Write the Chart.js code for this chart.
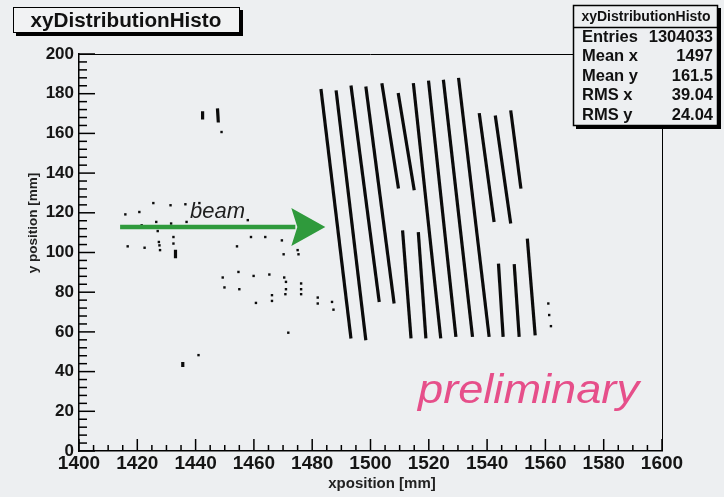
<!DOCTYPE html>
<html>
<head>
<meta charset="utf-8">
<script src="https://cdn.jsdelivr.net/npm/chart.js@4.4.1/dist/chart.umd.min.js"></script>
<style>
  html, body { margin: 0; padding: 0; background: #edeff1; }
  #wrap { width: 724px; height: 497px; }
</style>
</head>
<body>
<div id="wrap"><canvas id="xyChart" width="724" height="497"></canvas></div>
<script>
// strips of hits (top end -> bottom end), values in mm
const stripX1 = [1483.0, 1488.2, 1493.3, 1498.4, 1503.9, 1509.5, 1511.0, 1516.4, 1514.7, 1519.9, 1525.0, 1530.2, 1537.3, 1542.8, 1548.1, 1543.9, 1549.3, 1553.8, 1442.4, 1447.5, 1433.1, 1435.6];
const stripY1 = [182.4, 181.7, 184.1, 183.6, 185.3, 180.3, 111.2, 110.3, 185.3, 186.6, 187.0, 188.0, 170.2, 169.0, 171.6, 94.4, 94.1, 107.0, 171.1, 172.6, 101.4, 44.8];
const stripX2 = [1493.3, 1498.4, 1503.0, 1508.1, 1509.6, 1515.0, 1513.9, 1519.0, 1524.1, 1529.3, 1535.0, 1540.7, 1542.4, 1548.1, 1551.6, 1545.5, 1551.0, 1556.5, 1442.4, 1447.8, 1433.1, 1435.6];
const stripY2 = [56.7, 55.8, 75.1, 74.3, 132.2, 131.4, 56.7, 56.7, 56.7, 57.5, 57.5, 57.5, 115.4, 114.6, 132.2, 57.5, 57.5, 58.3, 167.0, 165.5, 97.1, 42.3];

// isolated hits
const hitX = [1448.9, 1425.5, 1431.4, 1436.5, 1441.3, 1415.9, 1420.7, 1421.5, 1426.5, 1431.6, 1436.9, 1427.0, 1432.4, 1416.7, 1422.5, 1427.4, 1427.6, 1427.8, 1432.4, 1454.2, 1459.0, 1463.9, 1469.6, 1470.2, 1475.0, 1475.3, 1449.3, 1454.7, 1459.9, 1465.3, 1470.4, 1471.0, 1449.9, 1455.0, 1476.2, 1476.2, 1471.0, 1466.2, 1466.2, 1460.7, 1470.8, 1476.2, 1481.9, 1481.9, 1486.8, 1487.3, 1471.8, 1441.0, 1561.0, 1561.3, 1561.9, 1457.9];
const hitY = [160.7, 124.9, 123.8, 124.3, 124.9, 119.2, 120.4, 113.7, 115.4, 114.6, 115.4, 110.8, 107.8, 103.1, 102.4, 105.3, 103.6, 101.2, 104.5, 103.1, 107.8, 107.8, 106.1, 99.1, 101.2, 99.1, 87.4, 90.2, 88.2, 88.9, 87.4, 85.2, 82.4, 81.5, 84.4, 81.5, 81.5, 78.5, 75.6, 74.6, 79.0, 79.0, 77.3, 74.3, 75.1, 71.2, 59.6, 48.3, 74.3, 68.5, 62.9, 116.3];

const xRange = [1400, 1600];
const yRange = [0, 200];

const statLabels = ['Entries', 'Mean x', 'Mean y', 'RMS x', 'RMS y'];
const statValues = ['1304033', '1497', '161.5', '39.04', '24.04'];

const histName = 'xyDistributionHisto';
const beamFrom = [1414.1, 112.9];
const beamTo = [1484.5, 112.9];

const FONT = "'Liberation Sans', Arial, Helvetica, sans-serif";
const BG = '#edeff1';

const datasets = stripX1.map(function(x, i) {
    return {
        type: 'line',
        data: [{ x: x, y: stripY1[i] }, { x: stripX2[i], y: stripY2[i] }],
        borderColor: '#0b0b0b',
        borderWidth: 3.2,
        borderCapStyle: 'butt',
        pointRadius: 0,
        fill: false
    };
});
datasets.push({
    type: 'scatter',
    data: hitX.map(function(x, i) { return { x: x, y: hitY[i] }; }),
    pointStyle: 'rect',
    pointRadius: 1.7,
    backgroundColor: '#0b0b0b',
    borderWidth: 0
});

const rootStyle = {
    id: 'rootStyle',
    beforeDraw: function(chart) {
        const c = chart.ctx;
        c.save();
        c.fillStyle = BG;
        c.fillRect(0, 0, chart.width, chart.height);
        c.restore();
    },
    afterDraw: function(chart) {
        const c = chart.ctx;
        const a = chart.chartArea;
        const xs = chart.scales.x, ys = chart.scales.y;
        c.save();

        // frame top and right
        c.strokeStyle = '#000';
        c.lineWidth = 1;
        c.beginPath();
        c.moveTo(a.left, a.top + 0.5);
        c.lineTo(a.right, a.top + 0.5);
        c.moveTo(a.right + 0.5, a.top);
        c.lineTo(a.right + 0.5, a.bottom);
        c.stroke();

        // inward ticks, ROOT style
        c.strokeStyle = '#000';
        c.lineWidth = 1.5;
        for (let v = yRange[0]; v <= yRange[1]; v += 4) {
            const py = ys.getPixelForValue(v);
            const len = v % 20 === 0 ? 16 : 8;
            c.beginPath();
            c.moveTo(a.left, py);
            c.lineTo(a.left + len, py);
            c.stroke();
        }
        for (let v = xRange[0]; v <= xRange[1]; v += 5) {
            const px = xs.getPixelForValue(v);
            const len = v % 20 === 0 ? 12 : 6;
            c.beginPath();
            c.moveTo(px, a.bottom);
            c.lineTo(px, a.bottom - len);
            c.stroke();
        }

        // beam arrow
        const bx1 = xs.getPixelForValue(beamFrom[0]);
        const bx2 = xs.getPixelForValue(beamTo[0]);
        const by = ys.getPixelForValue(beamFrom[1]);
        c.strokeStyle = '#2f9a3c';
        c.fillStyle = '#2f9a3c';
        c.lineWidth = 4.5;
        c.beginPath();
        c.moveTo(bx1, by);
        c.lineTo(bx2 - 30, by);
        c.stroke();
        c.beginPath();
        c.moveTo(bx2, by);
        c.lineTo(bx2 - 34, by - 19);
        c.lineTo(bx2 - 28, by);
        c.lineTo(bx2 - 34, by + 19);
        c.closePath();
        c.fill();

        c.fillStyle = '#1e1e1e';
        c.font = 'italic 22px ' + FONT;
        c.textAlign = 'left';
        c.textBaseline = 'alphabetic';
        c.fillText('beam', 190, 218);

        // preliminary
        c.fillStyle = '#e64f8a';
        c.font = 'italic 40px ' + FONT;
        const pw = c.measureText('preliminary').width;
        c.save();
        c.translate(418, 403);
        c.scale(221 / pw, 1);
        c.fillText('preliminary', 0, 0);
        c.restore();

        // axis titles
        c.fillStyle = '#222';
        c.font = 'bold 15px ' + FONT;
        c.textAlign = 'center';
        c.textBaseline = 'middle';
        c.fillText('xposition [mm]', 382, 484);
        c.save();
        c.translate(33, 223);
        c.rotate(-Math.PI / 2);
        c.font = 'bold 13.5px ' + FONT;
        c.fillText('y position [mm]', 0, 0);
        c.restore();

        // title box
        c.fillStyle = '#000';
        c.fillRect(16, 10, 227, 26);
        c.fillStyle = '#f1f2f3';
        c.fillRect(13, 7, 227, 26);
        c.strokeStyle = '#000';
        c.lineWidth = 1;
        c.strokeRect(13.5, 7.5, 226, 25);
        c.fillStyle = '#111';
        c.font = 'bold 20.7px ' + FONT;
        c.textAlign = 'center';
        c.fillText(histName, 126, 21);

        // stats box
        c.fillStyle = '#000';
        c.fillRect(576, 8, 145, 121);
        c.fillStyle = BG;
        c.fillRect(573, 5, 145, 121);
        c.lineWidth = 1.5;
        c.strokeRect(573.5, 5.5, 144, 120);
        c.beginPath();
        c.moveTo(573, 27.5);
        c.lineTo(718, 27.5);
        c.stroke();
        c.fillStyle = '#111';
        c.font = 'bold 14px ' + FONT;
        c.fillText(histName, 646, 17);
        c.font = 'bold 16.5px ' + FONT;
        statLabels.forEach(function(lab, i) {
            const ty = 37 + i * 19.6;
            c.textAlign = 'left';
            c.fillText(lab, 582, ty);
            c.textAlign = 'right';
            c.fillText(statValues[i], 713, ty);
        });
        c.restore();
    }
};

const ctx = document.getElementById('xyChart').getContext('2d');
new Chart(ctx, {
    type: 'scatter',
    data: { datasets: datasets },
    options: {
        responsive: false,
        animation: false,
        devicePixelRatio: 1,
        layout: { padding: { top: 54, right: 62, left: 0, bottom: 0 } },
        scales: {
            x: {
                type: 'linear',
                min: xRange[0],
                max: xRange[1],
                ticks: {
                    stepSize: 20,
                    color: '#151515',
                    font: { family: FONT, size: 19, weight: 'bold' },
                    padding: 1,
                    maxRotation: 0,
                    autoSkip: false,
                    callback: function(value) { return String(value); }
                },
                grid: { display: false, drawTicks: false },
                border: { display: true, color: '#000', width: 1.5 },
                afterFit: function(s) { s.height = 46; }
            },
            y: {
                type: 'linear',
                min: yRange[0],
                max: yRange[1],
                ticks: {
                    stepSize: 20,
                    color: '#151515',
                    font: { family: FONT, size: 17, weight: 'bold' },
                    padding: 5,
                    autoSkip: false,
                    callback: function(value) { return String(value); }
                },
                grid: { display: false, drawTicks: false },
                border: { display: true, color: '#000', width: 1.5 },
                afterFit: function(s) { s.width = 79; }
            }
        },
        plugins: {
            legend: { display: false },
            tooltip: { enabled: false }
        }
    },
    plugins: [rootStyle]
});
</script>
</body>
</html>
